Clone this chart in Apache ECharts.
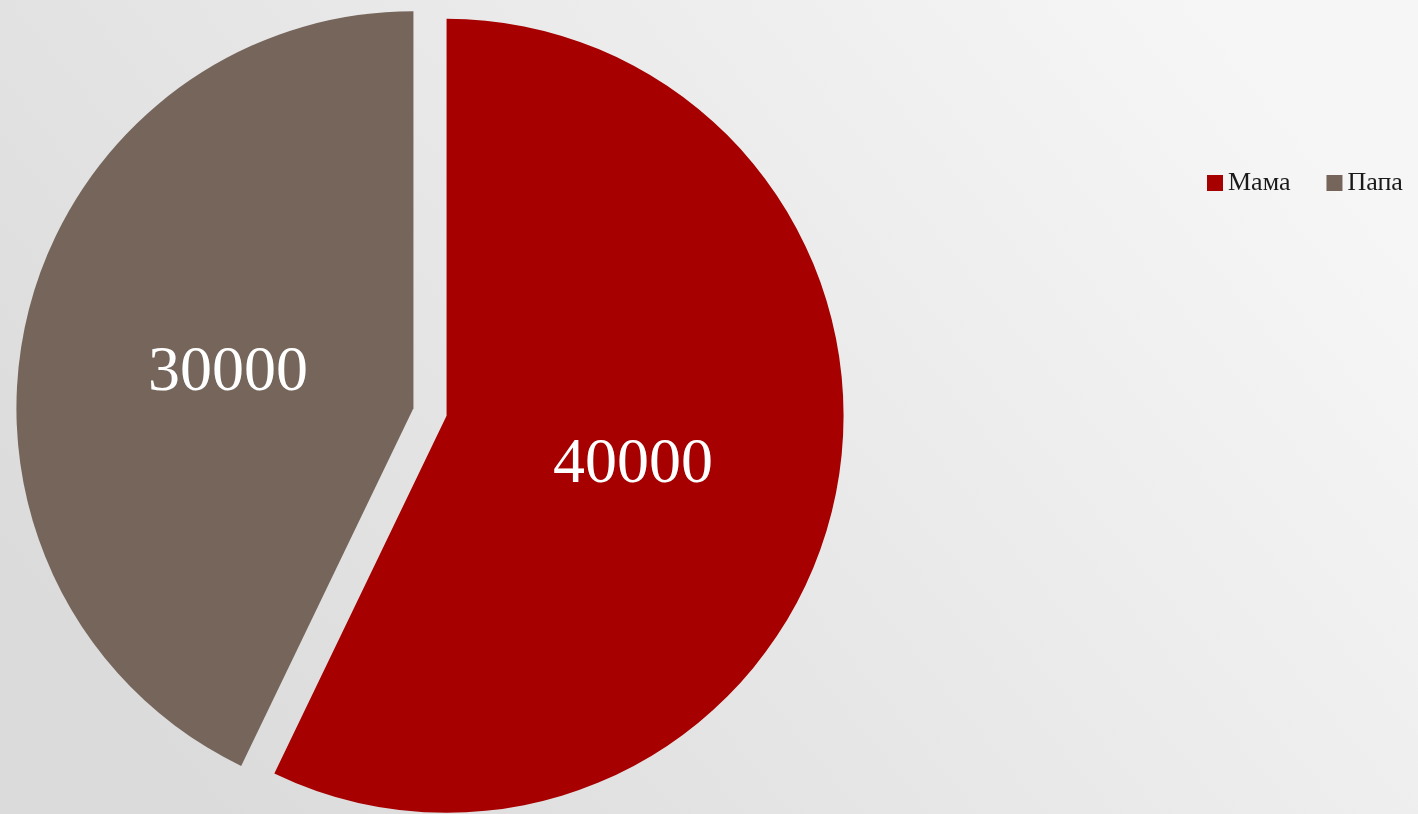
<!DOCTYPE html>
<html>
<head>
<meta charset="utf-8">
<script src="https://cdn.jsdelivr.net/npm/echarts@6/dist/echarts.min.js"></script>
<style>
html,body{margin:0;padding:0;width:1418px;height:814px;overflow:hidden;}
#c{width:1418px;height:814px;}
</style>
</head>
<body>
<div id="c"></div>
<script>
const categories = ['Мама', 'Папа'];
const values = [40000, 30000];
const colors = ['#A60000', '#75655B'];
const labelShift = [[-10, 5], [11, 10]];

const chart = echarts.init(document.getElementById('c'), null, {renderer: 'canvas'});
chart.setOption({
  animation: false,
  backgroundColor: {
    type: 'linear', x: 0.85, y: 0, x2: 0.15, y2: 1,
    colorStops: [{offset: 0, color: '#F6F6F6'}, {offset: 0.55, color: '#E7E7E7'}, {offset: 1, color: '#DBDBDB'}]
  },
  legend: {
    data: categories,
    left: 1202, top: 165,
    icon: 'rect', itemWidth: 16, itemHeight: 16, itemGap: 36,
    selectedMode: false,
    textStyle: {fontFamily: 'Liberation Serif', fontSize: 26, color: '#1a1a1a'}
  },
  series: [{
    type: 'pie',
    center: [430, 412],
    radius: 397,
    startAngle: 90,
    clockwise: true,
    selectedMode: 'multiple',
    selectedOffset: 17,
    emphasis: {disabled: true},
    label: {
      show: true, position: 'inner',
      formatter: '{c}',
      color: '#FFFFFF',
      fontFamily: 'Liberation Serif',
      fontSize: 64
    },
    labelLayout: function (params) {
      const s = labelShift[params.dataIndex];
      return {dx: s[0], dy: s[1]};
    },
    labelLine: {show: false},
    data: categories.map((n, i) => ({
      name: n, value: values[i], selected: true,
      itemStyle: {color: colors[i]},
      select: {itemStyle: {color: colors[i], borderWidth: 0}}
    }))
  }]
});
</script>
</body>
</html>
